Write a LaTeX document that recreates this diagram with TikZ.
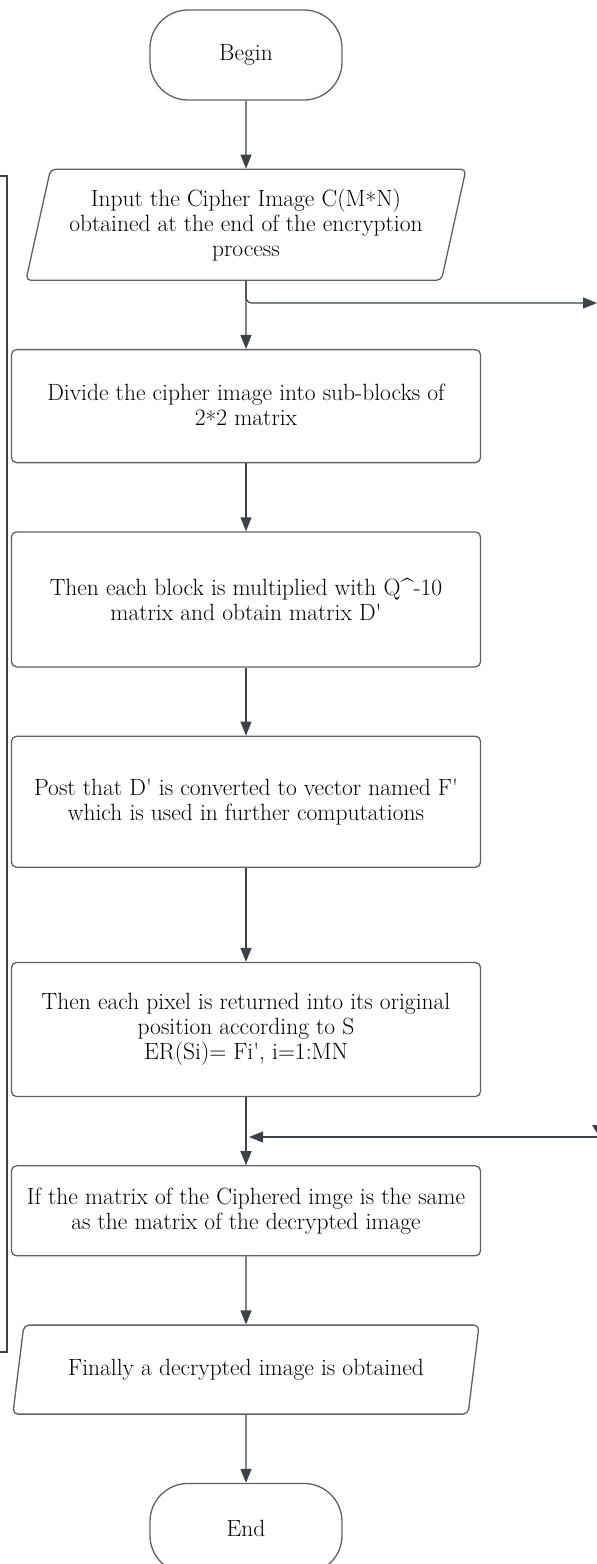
\documentclass[tikz,border=0pt]{standalone}
\usepackage{tikz}
\usetikzlibrary{shapes,arrows,arrows.meta,positioning}

\definecolor{edgegray}{HTML}{5E6168}
\definecolor{arrowgray}{HTML}{3B424B}
\newcommand{\midstar}{\raisebox{-0.35ex}{*}}

\begin{document}
\begin{tikzpicture}[x=1pt, y=-1pt, node distance=68pt,
    every node/.style={font=\fontsize{23.5}{25}\selectfont},
    startstop/.style={draw=edgegray, line width=1.3pt, rectangle, rounded corners=38pt, minimum width=192pt, minimum height=90pt},
    process/.style={draw=edgegray, line width=1.3pt, rectangle, rounded corners=5pt, minimum width=469pt, align=center},
    io/.style={draw=edgegray, line width=1.3pt, trapezium, trapezium stretches=true, rounded corners=5pt, align=center},
    arrow/.style={draw=arrowgray, line width=1.2pt, -{Triangle[length=14pt,width=11pt]}},
    line/.style={draw=arrowgray, line width=1.2pt}]
    \useasboundingbox (0,0) rectangle (597,1564);

    \node [startstop] (begin) at (246,55) {Begin};
    \node [io, trapezium left angle=74, trapezium right angle=106, minimum width=442pt, minimum height=111pt, below=of begin] (input) {Input the Cipher Image C(M\midstar N)\\obtained at the end of the encryption\\process};
    \node [process, minimum height=113pt, below=of input] (divide) {Divide the cipher image into sub-blocks of\\2\midstar 2 matrix};
    \node [process, minimum height=135pt, below=of divide] (multiply) {Then each block is multiplied with Q\textasciicircum-10\\matrix and obtain matrix D\textquotesingle};
    \node [process, minimum height=131pt, below=of multiply] (convert) {Post that D\textquotesingle\ is converted to vector named F\textquotesingle\\which is used in further computations};
    \node [process, minimum height=134pt, below=94pt of convert] (restore) {Then each pixel is returned into its original\\position according to S\\ER(Si)= Fi\textquotesingle, i=1:MN};
    \node [process, minimum height=90pt, below=of restore] (compare) {If the matrix of the Ciphered imge is the same\\as the matrix of the decrypted image};
    \node [io, trapezium left angle=72, trapezium right angle=108, minimum width=467pt, minimum height=89pt, below=of compare] (output) {Finally a decrypted image is obtained};
    \node [startstop, below=of output] (end) {End};

    % loose ends at the page border
    \coordinate (lt) at (0,176);
    \coordinate (lb) at (0,1352);
    \coordinate (rt) at (597,303);
    \coordinate (rin) at (597,1137);
    \coordinate (jn) at (249,1137);

    \draw[arrow] (begin) -- (input);
    \draw[arrow] (input) -- (divide);
    \draw[arrow] (divide) -- (multiply);
    \draw[arrow] (multiply) -- (convert);
    \draw[arrow] (convert) -- (restore);
    \draw[arrow] (restore) -- (compare);
    \draw[arrow] (compare) -- (output);
    \draw[arrow] (output) -- (end);

    \draw[arrow, rounded corners=6pt] (input.south) |- (rt);
    \draw[arrow] (rin) -- (jn);
    \fill[arrowgray] (592,1125) -- (608,1125) -- (600,1138) -- cycle;
    \draw[line] (lt) -- ++(7,0) |- (lb);
\end{tikzpicture}
\end{document}
